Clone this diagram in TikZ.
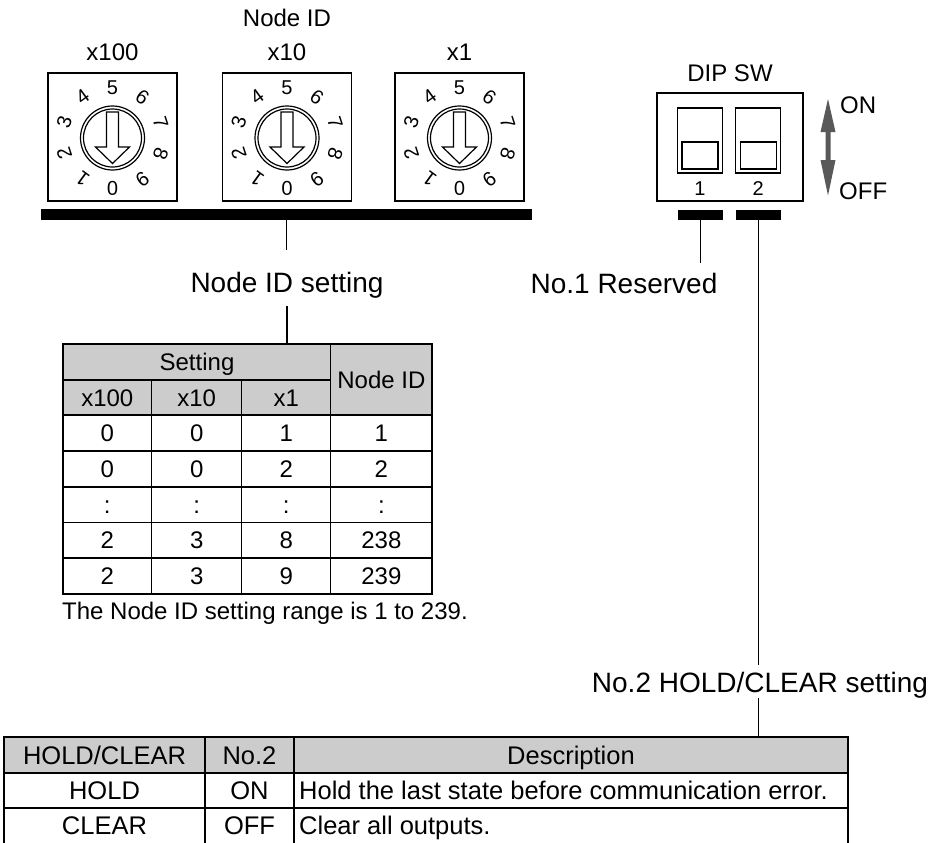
\documentclass[tikz,border=0pt]{standalone}
\usepackage{fontspec}
\setmainfont{Liberation Sans}

\begin{document}
\begin{tikzpicture}[x=1pt,y=-1pt,
  txt/.style={inner sep=0pt,text height=17.2pt,text depth=0pt,font=\fontsize{24}{28}\selectfont},
  wtxt/.style={inner sep=0pt,text height=18.3pt,text depth=0pt,font=\fontsize{25.5}{29}\selectfont},
  biglbl/.style={inner sep=0pt,text height=20pt,text depth=0pt,font=\fontsize{28}{32}\selectfont},
  digit/.style={inner sep=0pt,text height=14.3pt,text depth=0pt,font=\fontsize{20}{22}\selectfont},
  swnum/.style={inner sep=0pt,text height=14.3pt,text depth=0pt,font=\fontsize{20}{22}\selectfont},
  blackbar/.style={fill=black,inner sep=0pt,minimum height=11pt},
  frame/.style={draw,line width=1.5pt},
  tabline/.style={line width=1.5pt},
  wire/.style={line width=1.5pt},
  hdr/.style={fill=gray!40}]
\useasboundingbox (0,0) rectangle (932,843);

\node[txt] (idttl) at (287,18.3) {Node ID};
\foreach \cx/\ttl/\nm in {112.5/x100/h, 287/x10/t, 459.5/x1/o}{
  \node[txt] (\nm ttl) at (\cx,51.5) {\ttl};
  \draw[frame] (\cx-64.5,73) rectangle (\cx+64.5,201);
  \draw[line width=1.2pt] (\cx,138) circle (32pt) (\cx,138) circle (29pt);
  \draw[line width=1.2pt,fill=white] (\cx-6,112) -- (\cx+6,112) -- (\cx+6,147) -- (\cx+17,147)
    -- (\cx,163.5) -- (\cx-17,147) -- (\cx-6,147) -- cycle;
  \foreach \i in {0,...,9}
    \node[digit,rotate={180-36*\i}] (\nm d\i) at ({\cx+51*cos(270-36*\i)},{138-51*sin(270-36*\i)}) {\i};
}
\node[blackbar,minimum width=491pt] (rotbar) at (286.5,214.5) {};
\node[biglbl] (setlbl) at (287,282) {Node ID setting};
\coordinate (tab1top) at (287,344);
\draw[wire,shorten >=22pt] (rotbar.south) -- (rotbar.south |- setlbl.north);
\draw[wire,shorten <=14pt] (setlbl.south) -- (tab1top);

\fill[hdr] (63,344) rectangle (432,415);
\draw[tabline] (63,344) rectangle (432,594);
\draw[tabline] (63,380) -- (330.7,380);
\foreach \ry in {415,451,487,522.5,558}
  \draw[tabline] (63,\ry) -- (432,\ry);
\draw[tabline] (151.7,380) -- (151.7,594) (241.7,380) -- (241.7,594) (330.7,344) -- (330.7,594);
\node[txt] (sethd) at (197,362) {Setting};
\node[txt] (idhd) at (381.4,379.5) {Node ID};
\node[txt] (hhd) at (107.3,397.5) {x100};
\node[txt] (thd) at (196.7,397.5) {x10};
\node[txt] (ohd) at (286.2,397.5) {x1};
\foreach \a/\b/\c/\d [count=\k] in {0/0/1/1, 0/0/2/2, :/:/:/:, 2/3/8/238, 2/3/9/239}{
  \node[txt] (r\k h) at (107.3,{415+35.8*(\k-0.5)}) {\a};
  \node[txt] (r\k t) at (196.7,{415+35.8*(\k-0.5)}) {\b};
  \node[txt] (r\k o) at (286.2,{415+35.8*(\k-0.5)}) {\c};
  \node[txt] (r\k id) at (381.4,{415+35.8*(\k-0.5)}) {\d};
}
\node[txt,anchor=west] (rangenote) at (62,611) {The Node ID setting range is 1 to 239.};

\node[txt] (dipttl) at (730,73.3) {DIP SW};
\draw[frame] (657,93) rectangle (803,201);
\foreach \sx/\k in {700/1, 758.3/2}{
  \draw[line width=1.2pt] (\sx-22.5,108) rectangle (\sx+22.5,173);
  \draw[line width=1.2pt] (\sx-18,142) rectangle (\sx+18,169);
  \node[swnum] (sw\k) at (\sx,188) {\k};
}
\fill[black!65] (828,99) -- (835.5,132) -- (830.5,132) -- (830.5,160) -- (835.5,160) -- (828,195.5)
  -- (820.5,160) -- (825.5,160) -- (825.5,132) -- (820.5,132) -- cycle;
\node[txt,anchor=west] (onlbl) at (840,104.5) {ON};
\node[txt,anchor=west] (offlbl) at (839,190.8) {OFF};
\node[blackbar,minimum width=44.5pt,minimum height=10pt] (bar1) at (700.5,215) {};
\node[blackbar,minimum width=44.5pt,minimum height=10pt] (bar2) at (758.3,215) {};

\node[biglbl] (reslbl) at (624,283) {No.1 Reserved};
\draw[wire,shorten >=10pt] (bar1.south) -- (bar1.south |- reslbl.north);
\node[biglbl] (holdlbl) at (760,682) {No.2 HOLD/CLEAR setting};
\coordinate (tab2top) at (758.3,737);
\draw[wire,shorten >=7pt] (bar2.south) -- (bar2.south |- holdlbl.north);
\draw[wire,shorten <=6pt] (bar2.south |- holdlbl.south) -- (tab2top);

\fill[hdr] (4,737) rectangle (848,773);
\draw[tabline] (4,843) -- (4,737) -- (848,737) -- (848,843);
\draw[tabline] (4,773) -- (848,773) (4,808) -- (848,808);
\draw[tabline] (205,737) -- (205,843) (294,737) -- (294,843);
\node[wtxt] (hchd) at (104.5,755) {HOLD/CLEAR};
\node[wtxt] (nohd) at (249.5,755) {No.2};
\node[wtxt] (deschd) at (571,755) {Description};
\node[wtxt] (holdc) at (104.5,790.5) {HOLD};
\node[wtxt] (onc) at (249.5,790.5) {ON};
\node[wtxt,anchor=west] (holdd) at (299,790.5) {Hold the last state before communication error.};
\node[wtxt] (clearc) at (104.5,825.5) {CLEAR};
\node[wtxt] (offc) at (249.5,825.5) {OFF};
\node[wtxt,anchor=west] (cleard) at (299,825.5) {Clear all outputs.};
\end{tikzpicture}
\end{document}
